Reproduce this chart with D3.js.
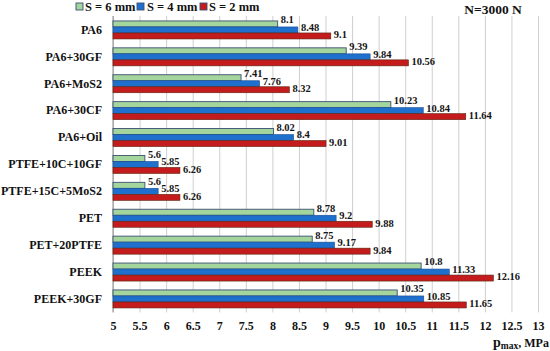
<!DOCTYPE html>
<html>
<head>
<meta charset="utf-8">
<script src="https://cdn.jsdelivr.net/npm/d3@7"></script>
<style>
  html, body { margin: 0; padding: 0; background: #fff; }
  svg { display: block; font-family: "Liberation Serif", "Times New Roman", serif; font-weight: bold; }
</style>
</head>
<body>
<svg id="chart" width="550" height="351"></svg>
<script>
const categories = ["PA6", "PA6+30GF", "PA6+MoS2", "PA6+30CF", "PA6+Oil", "PTFE+10C+10GF", "PTFE+15C+5MoS2", "PET", "PET+20PTFE", "PEEK", "PEEK+30GF"];
const seriesNames = ["S = 6 mm", "S = 4 mm", "S = 2 mm"];
const s6 = [8.1, 9.39, 7.41, 10.23, 8.02, 5.6, 5.6, 8.78, 8.75, 10.8, 10.35];
const s4 = [8.48, 9.84, 7.76, 10.84, 8.4, 5.85, 5.85, 9.2, 9.17, 11.33, 10.85];
const s2 = [9.1, 10.56, 8.32, 11.64, 9.01, 6.26, 6.26, 9.88, 9.84, 12.16, 11.65];
const tickValues = [5, 5.5, 6, 6.5, 7, 7.5, 8, 8.5, 9, 9.5, 10, 10.5, 11, 11.5, 12, 12.5, 13];

const seriesValues = [s6, s4, s2];
const fills = ["#a3d59c", "#1f6fcc", "#c41c1c"];
const strokes = ["#3d4f72", "#1b4f93", "#5b2410"];
const labelDy = [-3, -1.5, 0];

const svg = d3.select("#chart");
const x = d3.scaleLinear().domain([5, 13]).range([113, 538]);
const y = d3.scaleBand().domain(categories).range([16.5, 312.4]).paddingInner(0.33).paddingOuter(0.165);
const y1 = d3.scaleBand().domain(seriesNames).range([0, y.bandwidth()]);

// gridlines
svg.append("g")
  .attr("transform", `translate(0,${312.4})`)
  .call(d3.axisBottom(x).tickValues(tickValues).tickSize(-(312.4 - 16)).tickFormat(""))
  .call(g => g.select(".domain").remove())
  .call(g => g.selectAll(".tick line").attr("stroke", "#cfcfcf").attr("stroke-width", 1));

// left axis line
svg.append("line")
  .attr("x1", x(5)).attr("x2", x(5))
  .attr("y1", 16).attr("y2", 312.4)
  .attr("stroke", "#8c8c8c").attr("stroke-width", 1);

// bars
const groups = svg.append("g").selectAll("g")
  .data(categories)
  .join("g")
  .attr("transform", d => `translate(0,${y(d)})`);

groups.each(function(cat, ci) {
  const g = d3.select(this);
  seriesNames.forEach((s, si) => {
    const v = seriesValues[si][ci];
    g.append("rect")
      .attr("x", x(5))
      .attr("y", y1(s))
      .attr("width", x(v) - x(5))
      .attr("height", y1.bandwidth())
      .attr("fill", fills[si])
      .attr("stroke", strokes[si])
      .attr("stroke-width", si === 0 ? 0.9 : 0.6);
    g.append("text")
      .attr("x", x(v) + 3)
      .attr("y", y1(s) + y1.bandwidth() / 2 + labelDy[si])
      .attr("dominant-baseline", "middle")
      .attr("font-size", 10.5)
      .attr("fill", "#151515")
      .text(v);
  });
});

// category axis
svg.append("g")
  .attr("transform", `translate(${x(5)},0)`)
  .call(d3.axisLeft(y).tickSize(0).tickPadding(11))
  .call(g => g.select(".domain").remove())
  .call(g => g.selectAll("text")
    .attr("font-family", "Liberation Serif, serif")
    .attr("font-weight", "bold")
    .attr("font-size", 12)
    .attr("fill", "#111"));

// x axis tick labels
svg.append("g")
  .attr("transform", `translate(0,${312.4})`)
  .call(d3.axisBottom(x).tickValues(tickValues).tickSize(0).tickPadding(9).tickFormat(d3.format("~g")))
  .call(g => g.select(".domain").remove())
  .call(g => g.selectAll("text")
    .attr("font-family", "Liberation Serif, serif")
    .attr("font-weight", "bold")
    .attr("font-size", 12)
    .attr("fill", "#111"));

// legend
const legendSq = [76, 137, 200];
const legendTx = [85, 147, 209];
seriesNames.forEach((s, i) => {
  svg.append("rect")
    .attr("x", legendSq[i]).attr("y", 3)
    .attr("width", 7).attr("height", 7)
    .attr("fill", fills[i])
    .attr("stroke", "#3d4f72").attr("stroke-width", 0.9);
  svg.append("text")
    .attr("x", legendTx[i]).attr("y", 11)
    .attr("font-size", 12.5)
    .attr("fill", "#111")
    .text(s);
});

// N label
svg.append("text")
  .attr("x", 493).attr("y", 14)
  .attr("text-anchor", "middle")
  .attr("font-size", 13.5)
  .attr("fill", "#111")
  .text("N=3000 N");

// axis title
const t = svg.append("text")
  .attr("x", 493).attr("y", 347)
  .attr("fill", "#111");
t.append("tspan").attr("font-size", 14).text("p");
t.append("tspan").attr("font-size", 9.5).attr("dy", 2).text("max");
t.append("tspan").attr("font-size", 12).attr("dy", -2).text(", MPa");
</script>
</body>
</html>
